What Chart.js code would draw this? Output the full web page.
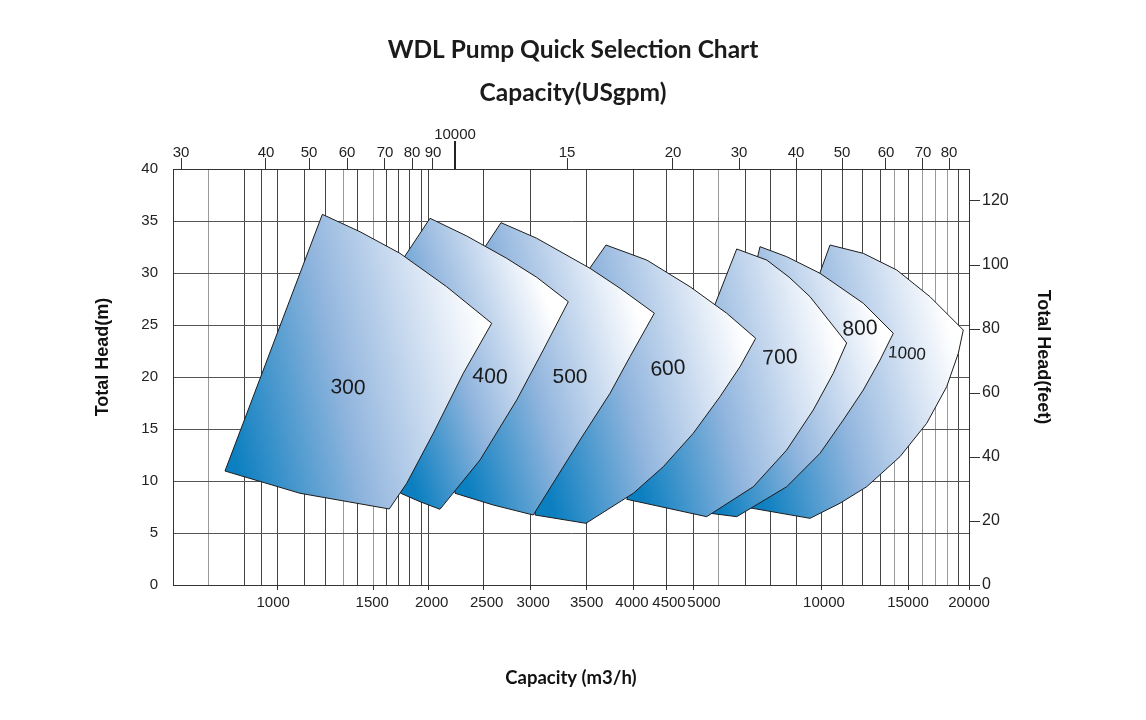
<!DOCTYPE html>
<html>
<head>
<meta charset="utf-8">
<title>WDL Pump Quick Selection Chart</title>
<script src="https://cdn.jsdelivr.net/npm/chart.js@4.4.1/dist/chart.umd.min.js"></script>
<style>
    html, body { margin: 0; padding: 0; background: #fff; }
    canvas { display: block; }
</style>
</head>
<body>
<canvas id="pumpChart" width="1146" height="720"></canvas>
<script>
// x runs along the printed (non-uniform) capacity grid, 0 = left frame, 100 = right frame
const capacityLabels = ['1000', '1500', '2000', '2500', '3000', '3500', '4000', '4500', '5000', '10000', '15000', '20000'];
const capacityLabelX = [12.59, 25.03, 32.50, 39.41, 45.26, 51.97, 57.66, 62.31, 66.71, 81.78, 92.34, 100];
const capacityTickX = [13.07, 25.13, 32.16, 39.07, 44.97, 52.01, 57.79, 62.06, 65.45, 81.41, 92.46, 100];
const minorGridX = [4.52, 8.92, 11.18, 16.46, 19.22, 21.36, 23.24, 26.76, 28.39, 29.77, 31.16,
    68.59, 71.86, 75.00, 78.27, 84.05, 86.56, 88.94, 90.58, 94.22, 95.85, 97.36, 98.74];

const usgpmLabels = ['30', '40', '50', '60', '70', '80', '90', '10000', '15', '20', '30', '40', '50', '60', '70', '80'];
const usgpmTickX = [1.01, 11.68, 17.09, 21.86, 26.63, 30.03, 32.66, 35.43, 49.50, 62.81, 71.11, 78.27, 84.05, 89.57, 94.22, 97.49];

const headTicks = [0, 5, 10, 15, 20, 25, 30, 35, 40];
const feetTicks = [0, 20, 40, 60, 80, 100, 120];

const modelNames = ['300', '400', '500', '600', '700', '800', '1000'];

// outlines: [x, head m]
const outline300 = [[18.76, 35.64], [23.49, 33.97], [28.52, 31.89], [34.38, 28.68], [40.04, 25.16], [36.47, 20.36],
    [32.70, 14.59], [29.36, 9.78], [27.17, 7.31], [15.95, 8.82], [6.53, 10.96]];
const outline400 = [[32.29, 35.26], [36.90, 33.56], [41.92, 31.41], [45.69, 29.59], [49.66, 27.24], [46.52, 22.60],
    [43.18, 17.79], [38.57, 12.02], [33.54, 7.28], [31.03, 8.01], [28.61, 8.82], [27.51, 13.94], [27.89, 30.19]];
const outline500 = [[41.21, 34.84], [45.69, 33.34], [52.39, 30.45], [56.16, 28.53], [60.47, 26.13], [57.41, 21.95],
    [54.90, 18.43], [51.13, 13.94], [45.26, 6.73], [40.24, 7.69], [35.43, 8.82], [34.80, 13.94], [37.94, 31.06]];
const outline600 = [[54.40, 32.69], [59.51, 31.25], [64.95, 28.68], [69.56, 26.13], [73.20, 23.72], [71.23, 20.99],
    [68.72, 18.11], [65.36, 14.59], [61.60, 11.38], [57.83, 8.82], [51.88, 5.93], [45.48, 6.73], [46.73, 13.94], [50.88, 28.85]];
const outline700 = [[70.82, 32.31], [74.58, 31.25], [77.40, 29.60], [80.03, 27.72], [84.63, 23.27], [82.95, 20.36],
    [80.44, 16.83], [77.10, 12.98], [72.90, 9.45], [67.05, 6.57], [57.00, 8.24], [66.83, 24.52]];
const outline800 = [[73.74, 32.53], [77.10, 31.57], [81.28, 29.97], [86.72, 27.09], [90.49, 24.20], [88.82, 21.63],
    [86.72, 18.75], [84.21, 15.87], [81.28, 12.66], [77.10, 9.45], [70.82, 6.57], [66.21, 7.02], [72.49, 28.37]];
const outline1000 = [[82.54, 32.69], [86.72, 31.89], [90.92, 30.29], [95.10, 27.72], [99.28, 24.52], [98.66, 22.28],
    [97.20, 19.07], [94.69, 15.55], [91.33, 12.34], [87.15, 9.45], [83.79, 7.86], [80.03, 6.41], [71.86, 7.50], [80.03, 27.40]];

const labelX = [21.98, 39.82, 49.87, 62.19, 76.26, 86.31, 92.21];
const labelY = [18.94, 20.0, 20.0, 20.77, 21.83, 24.62, 22.21];

const outlines = [outline300, outline400, outline500, outline600, outline700, outline800, outline1000];

const lightGridX = [4.52, 21.36, 25.13, 68.59, 90.58, 94.22, 95.85, 97.36];
const labelAngles = [3, 4, 0, -4, -3, -3, 4];
const labelSizes = [21, 21, 21, 21, 21, 21, 17];

const sansFamily = "'Liberation Sans', Arial, sans-serif";
const tickFont = { family: sansFamily, size: 15 };

document.addEventListener("DOMContentLoaded", () => {
    renderChart();
});

function shapeFill(context) {
    const chart = context.chart;
    const { chartArea, scales } = chart;
    if (!chartArea || !context.dataset) return '#8fb4dd';

    const pts = context.dataset.data;
    const xs = pts.map(p => scales.x.getPixelForValue(p.x));
    const ys = pts.map(p => scales.y.getPixelForValue(p.y));
    const x0 = Math.min(...xs), x1 = Math.max(...xs);
    const y0 = Math.min(...ys), y1 = Math.max(...ys);

    const g = chart.ctx.createLinearGradient(x0, y0 + (y1 - y0) * 0.7, x1, y0 + (y1 - y0) * 0.5);
    g.addColorStop(0, '#0b7fc0');
    g.addColorStop(0.45, '#93b6de');
    g.addColorStop(0.8, '#d9e5f4');
    g.addColorStop(1, '#ffffff');
    return g;
}

function buildDatasets() {
    return outlines.map((outline, i) => {
        const data = outline.map(([x, y]) => ({ x, y }));
        data.push({ x: outline[0][0], y: outline[0][1] });
        return {
            label: modelNames[i],
            data: data,
            showLine: true,
            fill: 'shape',
            backgroundColor: shapeFill,
            borderColor: '#1c1c1c',
            borderWidth: 1,
            pointRadius: 0,
            tension: 0
        };
    });
}

function capacityTicks() {
    const lines = capacityTickX.map(v => ({ value: v, name: '', mark: true }));
    const minor = minorGridX.map(v => ({ value: v, name: '', mark: false }));
    const labels = capacityLabelX.map((v, i) => ({ value: v, name: capacityLabels[i], textOnly: true }));
    return lines.concat(minor, labels).sort((a, b) => a.value - b.value);
}

const shapeLabels = {
    id: 'shapeLabels',
    afterDatasetsDraw(chart) {
        const { ctx, scales: { x, y } } = chart;
        ctx.save();
        ctx.fillStyle = '#1a1a1a';
        ctx.textAlign = 'center';
        ctx.textBaseline = 'middle';
        modelNames.forEach((name, i) => {
            ctx.save();
            ctx.translate(x.getPixelForValue(labelX[i]), y.getPixelForValue(labelY[i]));
            ctx.rotate(labelAngles[i] * Math.PI / 180);
            ctx.font = `${labelSizes[i]}px ${sansFamily}`;
            ctx.fillText(name, 0, 0);
            ctx.restore();
        });
        ctx.restore();
    }
};

const longTick = {
    id: 'longTick',
    afterDraw(chart) {
        const s = chart.scales.x2;
        const px = s.getPixelForValue(usgpmTickX[usgpmLabels.indexOf('10000')]);
        const ctx = chart.ctx;
        ctx.save();
        ctx.strokeStyle = '#222';
        ctx.lineWidth = 2;
        ctx.beginPath();
        ctx.moveTo(px, s.bottom);
        ctx.lineTo(px, s.bottom - 28);
        ctx.stroke();
        ctx.restore();
    }
};

function renderChart() {
    const canvas = document.getElementById('pumpChart');
    const headingFont = { family: 'Lato', size: 24.5, weight: 'bold', lineHeight: 1.2 };
    const axisTitleFont = { family: sansFamily, size: 18, weight: 'bold', lineHeight: 1.2 };

    new Chart(canvas.getContext('2d'), {
        type: 'scatter',
        data: { datasets: buildDatasets() },
        plugins: [shapeLabels, longTick],
        options: {
            responsive: false,
            animation: false,
            layout: { padding: 0 },
            plugins: {
                legend: { display: false },
                tooltip: { enabled: false },
                title: {
                    display: true,
                    text: 'WDL Pump Quick Selection Chart',
                    color: '#1b1b1b',
                    font: headingFont,
                    padding: { top: 35.3, bottom: 0 }
                },
                subtitle: {
                    display: true,
                    text: 'Capacity(USgpm)',
                    color: '#1b1b1b',
                    font: headingFont,
                    padding: { top: 13.6, bottom: 0 }
                }
            },
            scales: {
                x: {
                    type: 'linear',
                    position: 'bottom',
                    min: 0,
                    max: 100,
                    afterFit: s => { s.height = 135; },
                    afterBuildTicks: s => { s.ticks = capacityTicks(); },
                    ticks: {
                        autoSkip: false,
                        maxRotation: 0,
                        padding: 4,
                        color: '#222',
                        font: { family: sansFamily, size: 15 },
                        callback: (value, index, ticks) => ticks[index].name
                    },
                    grid: {
                        color: c => {
                            if (!c.tick) return '#444';
                            if (c.tick.textOnly) return 'rgba(0,0,0,0)';
                            return lightGridX.includes(c.tick.value) ? '#9a9a9a' : '#444';
                        },
                        tickColor: c => (c.tick && c.tick.mark) ? '#333' : 'rgba(0,0,0,0)',
                        tickLength: 5,
                        lineWidth: 1
                    },
                    border: { color: '#333' },
                    title: {
                        display: true,
                        text: 'Capacity (m3/h)',
                        color: '#111',
                        font: { family: 'Lato', size: 18.5, weight: 'bold', lineHeight: 1.2 },
                        padding: { top: 0, bottom: 30.9 }
                    }
                },
                x2: {
                    type: 'linear',
                    position: 'top',
                    min: 0,
                    max: 100,
                    afterFit: s => { s.height = 61.3; },
                    afterBuildTicks: s => {
                        s.ticks = usgpmTickX.map(v => ({ value: v }));
                    },
                    ticks: {
                        autoSkip: false,
                        maxRotation: 0,
                        padding: -4,
                        color: '#222',
                        font: tickFont,
                        callback: (value, index) => usgpmLabels[index] === '10000' ? ['10000', ''] : usgpmLabels[index]
                    },
                    grid: {
                        drawOnChartArea: false,
                        tickLength: 11,
                        tickColor: '#333'
                    },
                    border: { color: '#333' }
                },
                y: {
                    type: 'linear',
                    position: 'left',
                    min: 0,
                    max: 40,
                    afterFit: s => { s.width = 173; },
                    afterBuildTicks: s => {
                        s.ticks = headTicks.map(v => ({ value: v }));
                    },
                    ticks: {
                        padding: 15,
                        color: '#222',
                        font: tickFont
                    },
                    grid: {
                        color: '#555',
                        drawTicks: false
                    },
                    border: { color: '#333' },
                    title: {
                        display: true,
                        // leading spaces lift the centred title, as in the original
                        text: '        Total Head(m)',
                        color: '#111',
                        font: axisTitleFont,
                        padding: { top: 92.2, bottom: 0 }
                    }
                },
                y2: {
                    type: 'linear',
                    position: 'right',
                    min: 0,
                    max: 130,
                    afterFit: s => { s.width = 177; },
                    afterBuildTicks: s => {
                        s.ticks = feetTicks.map(v => ({ value: v }));
                    },
                    ticks: {
                        padding: 2,
                        color: '#222',
                        font: { family: sansFamily, size: 16 }
                    },
                    grid: {
                        drawOnChartArea: false,
                        tickLength: 11,
                        tickColor: '#333'
                    },
                    border: { color: '#333' },
                    title: {
                        display: true,
                        text: 'Total Head(feet)        ',
                        color: '#111',
                        font: axisTitleFont,
                        padding: { top: 92.2, bottom: 0 }
                    }
                }
            }
        }
    });
}
</script>
</body>
</html>
